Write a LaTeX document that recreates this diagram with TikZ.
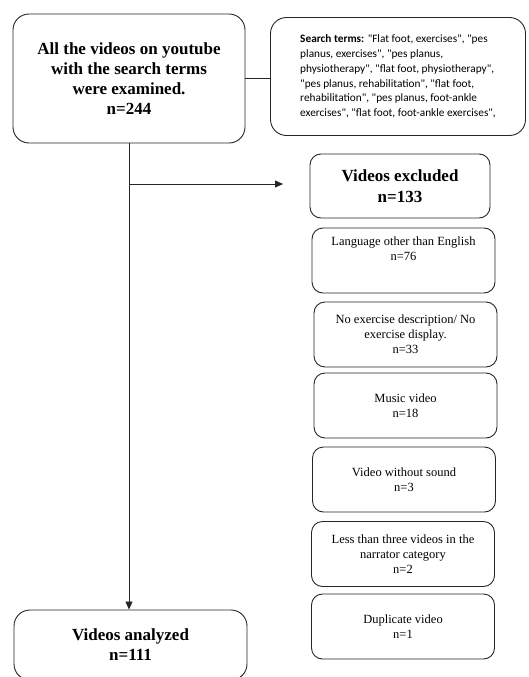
\documentclass[tikz,border=0pt]{standalone}
\usepackage{fontspec}
\setmainfont{Liberation Serif}
\newfontfamily\termsfont{Carlito}
\usetikzlibrary{arrows.meta}

\begin{document}
\begin{tikzpicture}[x=1pt,y=-1pt,
		mainbox/.style={draw=black!85, line width=0.9pt, rounded corners=16pt, align=center, font=\bfseries\fontsize{17}{20}\selectfont},
		subbox/.style={draw=black!85, line width=0.9pt, rounded corners=11pt, align=center, minimum width=183pt, minimum height=65pt, font=\fontsize{12.5}{15}\selectfont},
		link/.style={black!85, line width=0.8pt}]
		\useasboundingbox (0,0) rectangle (528,677);
		\clip (0,0) rectangle (528,677);
		\node[mainbox, minimum width=232pt, minimum height=129pt] (all) at (129,78.5) {All the videos on youtube\\with the search terms\\were examined.\\n=244};
		\node[draw=black!85, line width=0.9pt, rounded corners=16pt, align=left, minimum width=255pt, minimum height=118pt, font=\termsfont\fontsize{11.3}{14.7}\selectfont] (terms) at (398,76.5) {\textbf{Search terms:} "Flat foot, exercises", "pes\\planus, exercises", "pes planus,\\physiotherapy", "flat foot, physiotherapy",\\"pes planus, rehabilitation", "flat foot,\\rehabilitation", "pes planus, foot-ankle\\exercises", "flat foot, foot-ankle exercises",};
		\node[mainbox, rounded corners=11pt, minimum width=180pt, minimum height=64pt, font=\bfseries\fontsize{17}{21}\selectfont] (excluded) at (400,186) {Videos excluded\\n=133};
		\node[subbox] (language) at (403.5,260.5) {Language other than English\\n=76\\[9pt]\mbox{}};
		\node[subbox] (nodesc) at (405.5,334.5) {No exercise description/ No\\exercise display.\\n=33};
		\node[subbox] (music) at (405.5,405.5) {Music video\\n=18};
		\node[subbox] (nosound) at (404,479.5) {Video without sound\\n=3};
		\node[subbox] (narrator) at (403,554) {Less than three videos in the\\narrator category\\n=2};
		\node[subbox] (duplicate) at (403,626.5) {Duplicate video\\n=1};
		\node[mainbox, minimum width=233pt, minimum height=70pt] (analyzed) at (130.5,645) {Videos analyzed\\n=111};
		% connectors
		\coordinate (split) at (all.south |- 0,184);
		\coordinate (tip) at (283,184);
		\draw[link] (all.east) -- (all.east -| terms.west);
		\draw[link, -{Triangle[width=7pt,length=8pt]}] (all.south) -- (all.south |- analyzed.north);
		\draw[link, -{Triangle[width=7pt,length=8pt]}] (split) -- (tip);
	\end{tikzpicture}
\end{document}
